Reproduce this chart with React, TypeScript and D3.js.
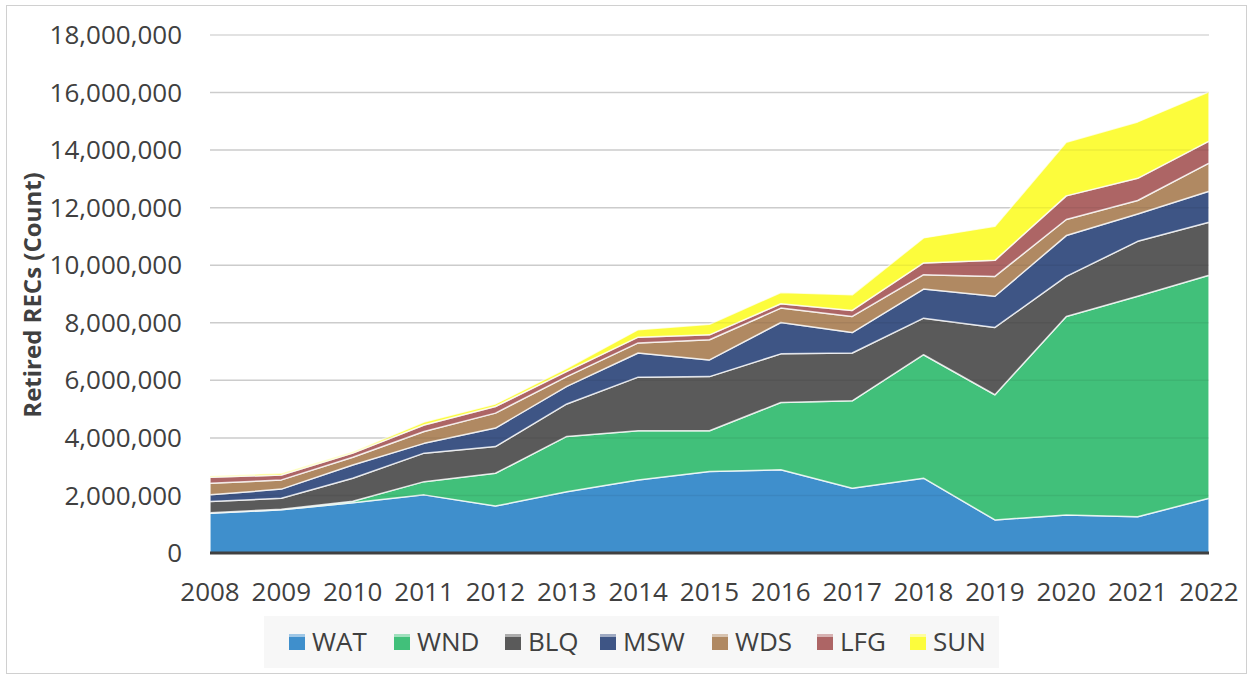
import { useEffect, useRef } from "react";
import * as d3 from "d3";

const years = [2008, 2009, 2010, 2011, 2012, 2013, 2014, 2015, 2016, 2017, 2018, 2019, 2020, 2021, 2022];

// values in millions of RECs
const WAT = [1.38, 1.5, 1.75, 2.02, 1.63, 2.13, 2.54, 2.83, 2.89, 2.25, 2.6, 1.15, 1.32, 1.26, 1.9];
const WND = [0.02, 0.02, 0.05, 0.46, 1.14, 1.92, 1.71, 1.42, 2.34, 3.04, 4.29, 4.35, 6.9, 7.66, 7.75];
const BLQ = [0.39, 0.38, 0.8, 0.99, 0.93, 1.13, 1.86, 1.88, 1.69, 1.66, 1.27, 2.34, 1.39, 1.91, 1.84];
const MSW = [0.23, 0.32, 0.46, 0.34, 0.64, 0.61, 0.84, 0.58, 1.09, 0.71, 1.01, 1.08, 1.42, 0.95, 1.08];
const WDS = [0.4, 0.32, 0.27, 0.41, 0.52, 0.34, 0.35, 0.7, 0.5, 0.56, 0.5, 0.69, 0.56, 0.47, 0.98];
const LFG = [0.21, 0.17, 0.14, 0.23, 0.23, 0.18, 0.2, 0.17, 0.15, 0.21, 0.41, 0.56, 0.82, 0.77, 0.76];
const SUN = [0.05, 0.06, 0.05, 0.1, 0.09, 0.11, 0.26, 0.37, 0.39, 0.54, 0.87, 1.18, 1.86, 1.96, 1.72];

const seriesNames = ["WAT", "WND", "BLQ", "MSW", "WDS", "LFG", "SUN"];
const seriesValues = [WAT, WND, BLQ, MSW, WDS, LFG, SUN];
const colors = ["#3f8fcc", "#41c07a", "#5a5a5a", "#3e5585", "#b08962", "#ad6565", "#fcfc3c"];
const yTicks = [0, 2e6, 4e6, 6e6, 8e6, 10e6, 12e6, 14e6, 16e6, 18e6];

const W = 1253;
const H = 679;
const FONT = "'Open Sans', sans-serif";

const App = () => {
  const ref = useRef<SVGSVGElement>(null!);

  useEffect(() => {
    document.body.style.margin = "0";
    const svg = d3.select(ref.current);
    svg.selectAll("*").remove();

    const left = 210;
    const right = 1209;
    const top = 35;
    const bottom = 553;

    const x = d3.scalePoint<number>().domain(years).range([left, right]);
    const y = d3.scaleLinear().domain([0, 18e6]).range([bottom, top]);

    // outer frame
    svg.append("rect")
      .attr("x", 6.5).attr("y", 5.5)
      .attr("width", W - 13).attr("height", H - 11)
      .attr("fill", "#fff").attr("stroke", "#d0d0d0");

    const rows = years.map((yr, i) => {
      const row: Record<string, number> = { year: yr };
      seriesNames.forEach((n, k) => (row[n] = seriesValues[k][i] * 1e6));
      return row;
    });
    const stacked = d3.stack<Record<string, number>>().keys(seriesNames)(rows);

    const area = d3.area<d3.SeriesPoint<Record<string, number>>>()
      .x((d) => x(d.data.year)!)
      .y0((d) => y(d[0]))
      .y1((d) => y(d[1]));

    // gridlines
    svg.append("g")
      .selectAll("line")
      .data(yTicks.slice(1))
      .join("line")
      .attr("x1", left).attr("x2", right)
      .attr("y1", (d) => y(d)).attr("y2", (d) => y(d))
      .attr("stroke", "#d9d9d9").attr("stroke-width", 1.5);

    svg.append("g")
      .selectAll("path")
      .data(stacked)
      .join("path")
      .attr("d", area)
      .attr("fill", (_, i) => colors[i])
      .attr("stroke", "rgba(255,255,255,0.75)")
      .attr("stroke-width", 1.5)
      .attr("stroke-linejoin", "round");

    // gridlines faintly through the areas
    svg.append("g")
      .selectAll("line")
      .data(yTicks.slice(1, -1))
      .join("line")
      .attr("x1", left).attr("x2", right)
      .attr("y1", (d) => y(d)).attr("y2", (d) => y(d))
      .attr("stroke", "#000").attr("stroke-opacity", 0.06).attr("stroke-width", 1.5);

    // baseline
    svg.append("line")
      .attr("x1", left).attr("x2", right)
      .attr("y1", bottom).attr("y2", bottom)
      .attr("stroke", "#404040").attr("stroke-width", 3);

    // y tick labels
    svg.append("g")
      .selectAll("text")
      .data(yTicks)
      .join("text")
      .attr("x", 182).attr("y", (d) => y(d))
      .attr("dy", "0.35em")
      .attr("text-anchor", "end")
      .attr("font-family", FONT).attr("font-size", 26)
      .attr("fill", "#404040")
      .text((d) => d3.format(",")(d));

    // x tick labels
    svg.append("g")
      .selectAll("text")
      .data(years)
      .join("text")
      .attr("x", (d) => x(d)!).attr("y", 592)
      .attr("dy", "0.35em")
      .attr("text-anchor", "middle")
      .attr("font-family", FONT).attr("font-size", 26)
      .attr("fill", "#404040")
      .text((d) => d);

    // axis title
    svg.append("text")
      .attr("transform", `translate(33, 295) rotate(-90)`)
      .attr("dy", "0.35em")
      .attr("text-anchor", "middle")
      .attr("font-family", FONT).attr("font-size", 24).attr("font-weight", "bold")
      .attr("fill", "#404040")
      .text("Retired RECs (Count)");

    // legend
    svg.append("rect")
      .attr("x", 264).attr("y", 616)
      .attr("width", 735).attr("height", 52)
      .attr("fill", "#f7f7f7");

    const legendX = [289, 394, 505, 600, 712, 817, 910];
    const lg = svg.append("g")
      .selectAll("g")
      .data(seriesNames)
      .join("g")
      .attr("transform", (_, i) => `translate(${legendX[i]}, 642)`);
    lg.append("rect")
      .attr("x", 0).attr("y", -8)
      .attr("width", 16).attr("height", 16)
      .attr("fill", (_, i) => colors[i]);
    lg.append("rect")
      .attr("x", 0).attr("y", -8)
      .attr("width", 16).attr("height", 3)
      .attr("fill", "#fff").attr("opacity", 0.5);
    lg.append("text")
      .attr("x", 23).attr("y", 0)
      .attr("dy", "0.35em")
      .attr("font-family", FONT).attr("font-size", 26)
      .attr("fill", "#404040")
      .text((d) => d);
  }, []);

  return <svg ref={ref} width={W} height={H} style={{ display: "block" }} />;
};

export default App;
